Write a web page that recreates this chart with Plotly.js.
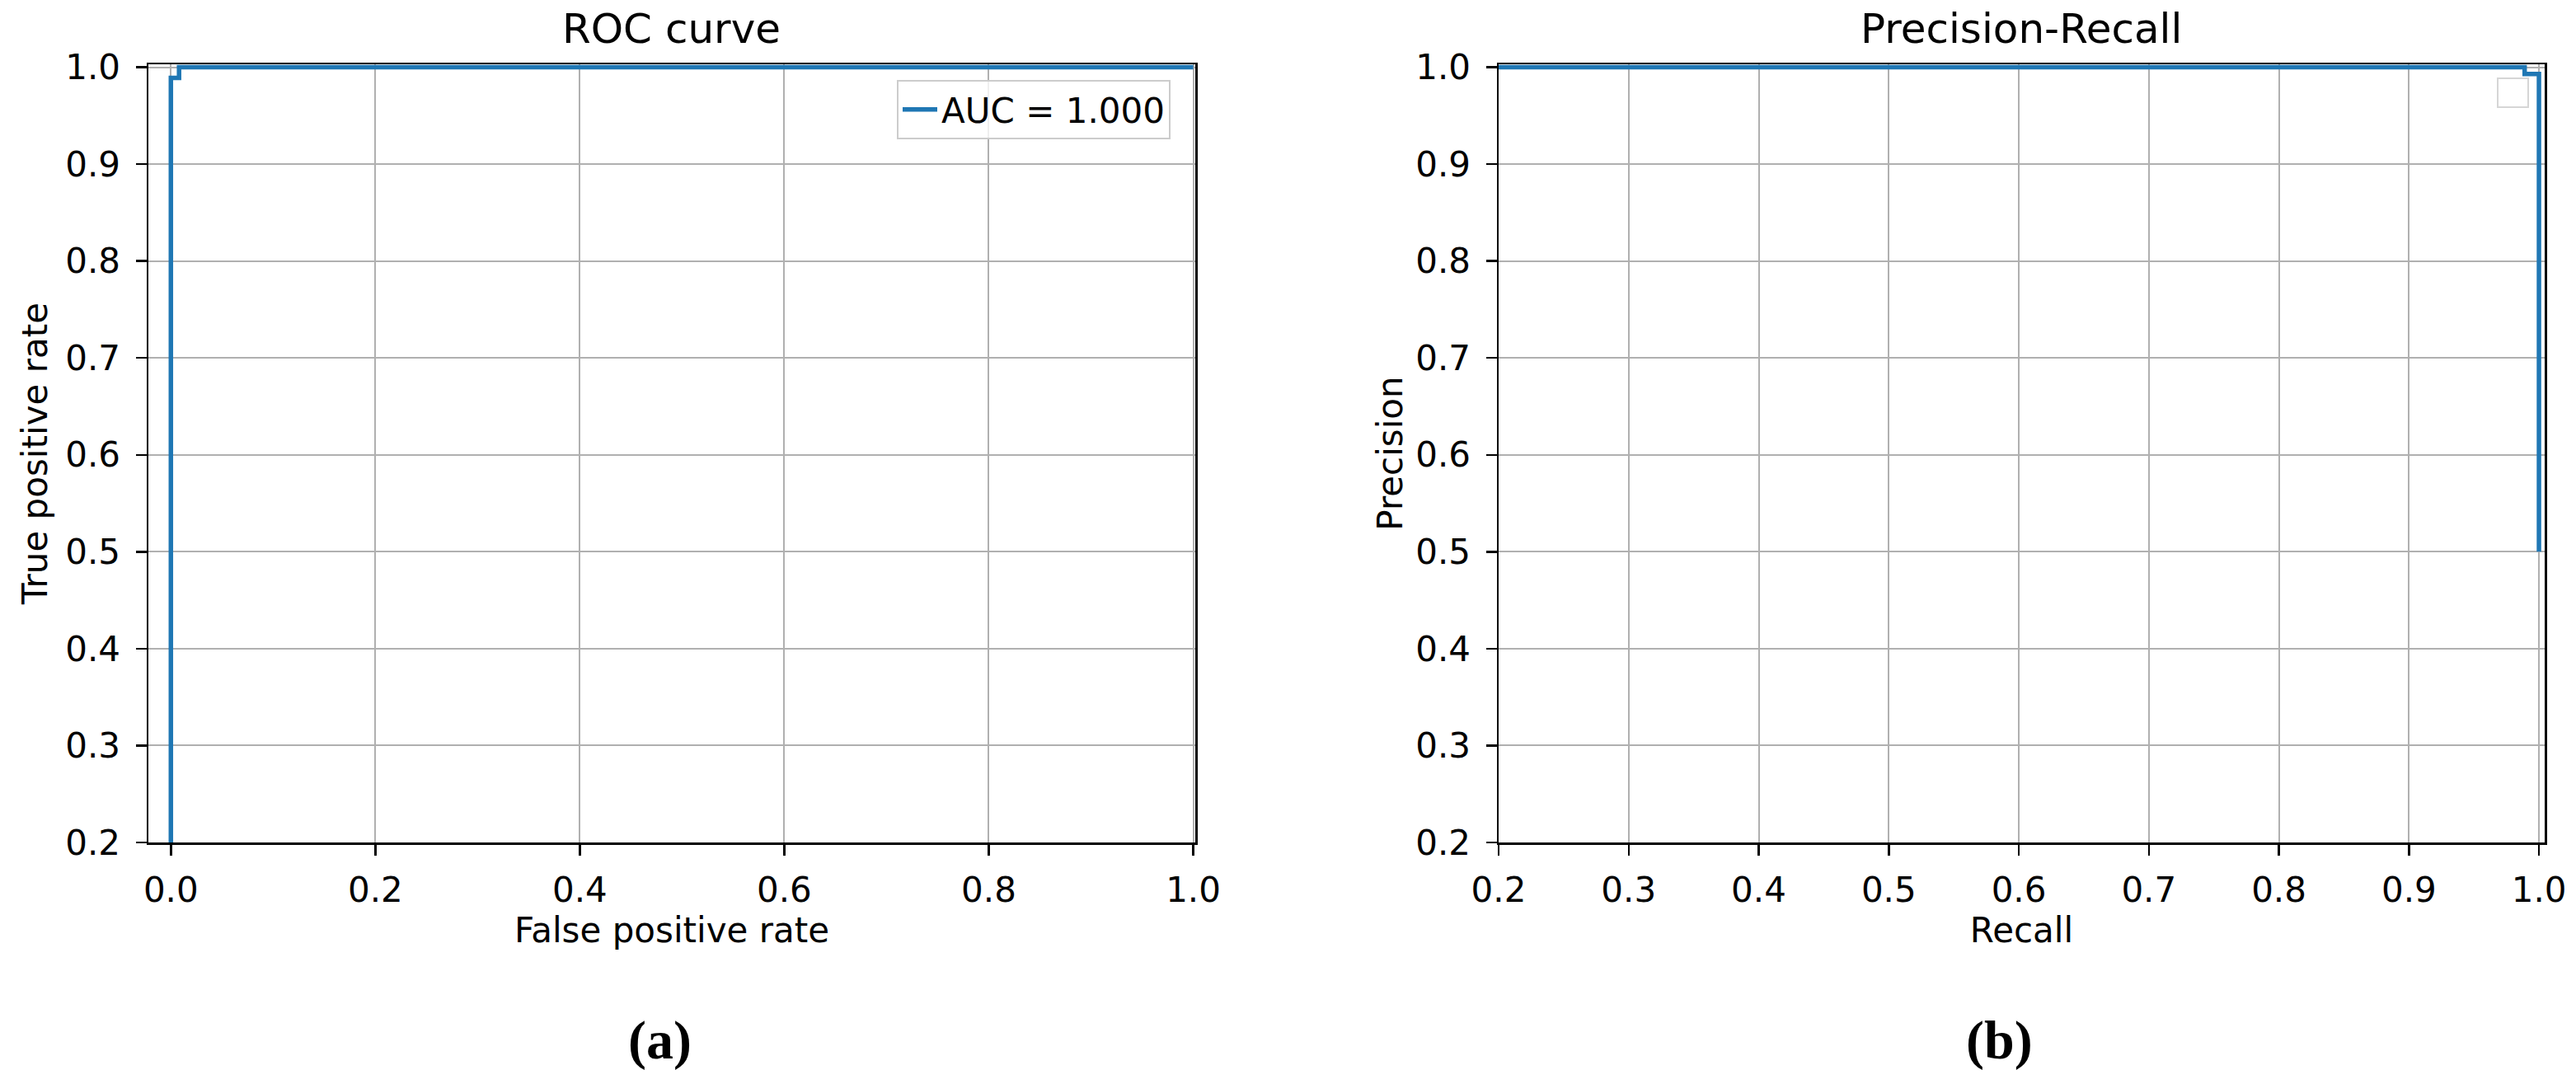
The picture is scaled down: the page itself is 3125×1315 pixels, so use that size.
<!DOCTYPE html>
<html>
<head>
<meta charset="utf-8">
<script src="https://cdn.plot.ly/plotly-3.0.1.min.js"></script>
<style>
html,body{margin:0;padding:0;background:#fff;}
#chart{width:3125px;height:1315px;}
</style>
</head>
<body>
<div id="chart"></div>
<script>
// ROC curve data
const fpr = [0, 0, 0.008, 0.008, 1.0];
const tpr = [0, 0.989, 0.989, 1.0, 1.0];
const rocLabel = "AUC = 1.000";

// Precision-Recall data
const recall = [0, 0.989, 0.989, 1.0, 1.0];
const precision = [1.0, 1.0, 0.993, 0.993, 0.5];

// tick values
const rocXTicks = [0.0, 0.2, 0.4, 0.6, 0.8, 1.0];
const rocYTicks = [0.2, 0.3, 0.4, 0.5, 0.6, 0.7, 0.8, 0.9, 1.0];
const prXTicks = [0.2, 0.3, 0.4, 0.5, 0.6, 0.7, 0.8, 0.9, 1.0];
const prYTicks = [0.2, 0.3, 0.4, 0.5, 0.6, 0.7, 0.8, 0.9, 1.0];

const BLUE = '#1f77b4';
const FONT = 'DejaVu Sans';

const traces = [
  {x: fpr, y: tpr, type: 'scatter', mode: 'lines', name: rocLabel,
   line: {color: BLUE, width: 5.5}, xaxis: 'x', yaxis: 'y', showlegend: true},
  {x: recall, y: precision, type: 'scatter', mode: 'lines', name: 'PR',
   line: {color: BLUE, width: 5.5}, xaxis: 'x2', yaxis: 'y2', showlegend: false}
];

function axisBase(ticks) {
  return {
    tickmode: 'array', tickvals: ticks, tickformat: '.1f',
    showline: true, mirror: true, linecolor: '#000', linewidth: 2.5,
    ticks: 'outside', ticklen: 13, tickwidth: 2.5, tickcolor: '#000',
    showgrid: true, gridcolor: '#b0b0b0', gridwidth: 2,
    zeroline: false,
    tickfont: {family: FONT, size: 42, color: '#000'},
    automargin: false
  };
}

const yTop = 1 - 78/1315, yBot = 1 - 1022/1315;

const layout = {
  width: 3125, height: 1315,
  margin: {l: 0, r: 0, t: 0, b: 0},
  paper_bgcolor: '#fff', plot_bgcolor: '#fff',
  font: {family: FONT, color: '#000'},
  xaxis: Object.assign(axisBase(rocXTicks), {
    domain: [180/3125, 1450/3125], range: [-0.022, 1.002], anchor: 'y',
    ticklabelstandoff: 6,
    title: {text: 'False positive rate', font: {family: FONT, size: 42, color: '#000'}, standoff: 9}
  }),
  yaxis: Object.assign(axisBase(rocYTicks), {
    domain: [yBot, yTop], range: [0.2, 1.003], anchor: 'x',
    ticklabelstandoff: 10,
    title: {text: 'True positive rate', font: {family: FONT, size: 42, color: '#000'}, standoff: 9}
  }),
  xaxis2: Object.assign(axisBase(prXTicks), {
    domain: [1818/3125, 3087/3125], range: [0.2, 1.0044], anchor: 'y2',
    ticklabelstandoff: 6,
    title: {text: 'Recall', font: {family: FONT, size: 42, color: '#000'}, standoff: 9}
  }),
  yaxis2: Object.assign(axisBase(prYTicks), {
    domain: [yBot, yTop], range: [0.2, 1.003], anchor: 'x2',
    ticklabelstandoff: 10,
    title: {text: 'Precision', font: {family: FONT, size: 42, color: '#000'}, standoff: 3}
  }),
  showlegend: true,
  legend: {
    x: 1420/3125, xanchor: 'right', y: 1 - 97/1315, yanchor: 'top',
    bgcolor: 'rgba(255,255,255,0.8)', bordercolor: '#cccccc', borderwidth: 2,
    font: {family: FONT, size: 42, color: '#000'},
    itemwidth: 42
  },
  shapes: [
    {type: 'rect', xref: 'paper', yref: 'paper',
     x0: 3030/3125, x1: 3067/3125, y0: 1 - 130/1315, y1: 1 - 95/1315,
     line: {color: '#d6d6d6', width: 2}, fillcolor: 'rgba(255,255,255,0.8)', layer: 'above'}
  ],
  annotations: [
    {text: 'ROC curve', xref: 'paper', yref: 'paper', x: 815/3125, y: 1 - 35/1315,
     xanchor: 'center', yanchor: 'middle', showarrow: false,
     font: {family: FONT, size: 50, color: '#000'}},
    {text: 'Precision-Recall', xref: 'paper', yref: 'paper', x: 2452/3125, y: 1 - 35/1315,
     xanchor: 'center', yanchor: 'middle', showarrow: false,
     font: {family: FONT, size: 50, color: '#000'}},
    {text: '<b>(a)</b>', xref: 'paper', yref: 'paper', x: 800/3125, y: 1 - 1262/1315,
     xanchor: 'center', yanchor: 'middle', showarrow: false,
     font: {family: 'Liberation Serif', size: 66, color: '#000'}},
    {text: '<b>(b)</b>', xref: 'paper', yref: 'paper', x: 2425/3125, y: 1 - 1262/1315,
     xanchor: 'center', yanchor: 'middle', showarrow: false,
     font: {family: 'Liberation Serif', size: 66, color: '#000'}}
  ]
};

Plotly.newPlot('chart', traces, layout, {staticPlot: true, displayModeBar: false});
</script>
</body>
</html>
